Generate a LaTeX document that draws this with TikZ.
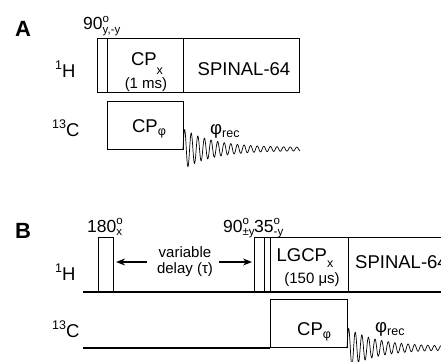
\documentclass[tikz,border=0pt]{standalone}
\usepackage{fontspec}
\setmainfont{Liberation Sans}
\usetikzlibrary{positioning, arrows.meta}

\newcommand{\lowtxt}[2][-0.25em]{\raisebox{#1}{\fontsize{12.5}{12}\selectfont #2}}
\newcommand{\upone}[1]{\raisebox{0.42em}{\fontsize{12.5}{12}\selectfont #1}}
\newcommand{\phaselab}[2]{#1\rlap{\raisebox{0.45em}{\fontsize{11.5}{12}\selectfont o}}\raisebox{-0.22em}{\fontsize{11.5}{12}\selectfont #2}}

\tikzset{
  pulse/.style={draw, line width=1.1pt, inner sep=0pt, anchor=south west},
  lab/.style={font=\fontsize{18.5}{20}\selectfont, inner sep=0pt},
  anglelab/.style={font=\fontsize{17.5}{20}\selectfont, inner sep=0pt, anchor=base west},
  panel/.style={font=\fontsize{22}{22}\selectfont\bfseries, inner sep=0pt, anchor=base west},
  smalllab/.style={font=\fontsize{15}{16}\selectfont, inner sep=0pt, align=center},
  arr/.style={-{Stealth[length=9pt,width=7pt]}, line width=1.1pt},
  fid/.style={line width=0.7pt}
}

\begin{document}
\begin{tikzpicture}[x=1pt, y=-1pt]
  \useasboundingbox (0,0) rectangle (441,361);
  \clip (0,0) rectangle (441,361);

  % panel A
  \node[panel] (labA) at (15,37) {A};
  \node[lab, anchor=base west] (hA) at (55,77) {\upone{1}H};
  \node[lab, anchor=base west] (cA) at (52,136) {\upone{13}C};
  \node[pulse, minimum width=10pt, minimum height=54pt] (hA90) at (97,93) {};
  \node[pulse, minimum width=76pt, minimum height=54pt] (hAcp) at (107,93) {};
  \node[pulse, minimum width=116pt, minimum height=54pt] (hAspinal) at (183,93) {};
  \node[pulse, minimum width=76pt, minimum height=48pt] (cAcp) at (107,150) {};
  \node[anglelab] (hA90lab) at (83,30) {\phaselab{90}{y,-y}};
  \node[lab, anchor=base] (hAcplab) at (147,65) {CP\lowtxt[-0.5em]{x}};
  \node[smalllab, anchor=base] (hAtime) at (146,88) {(1 ms)};
  \node[lab, anchor=base] (hAspinallab) at (244,75) {SPINAL-64};
  \node[lab, anchor=base] (cAcplab) at (149,132) {CP\lowtxt[-0.2em]{φ}};
  \node[lab, anchor=base west] (cArec) at (210,134) {φ\lowtxt[-0.2em]{rec}};
  \draw[fid] plot[domain=0:117, samples=400] ({183+\x}, {149-(19*exp(-\x/30)+1.5)*sin(\x/6.6*360)});

  % panel B
  \node[panel] (labB) at (15,238) {B};
  \node[lab, anchor=base west] (hB) at (55,280) {\upone{1}H};
  \node[lab, anchor=base west] (cB) at (52,337) {\upone{13}C};
  \coordinate (hBstart) at (83,292);
  \coordinate (hBend) at (441,292);
  \coordinate (cBstart) at (83,348);
  \draw[line width=1.1pt] (hBstart) -- (hBend);
  \node[pulse, minimum width=15pt, minimum height=54pt] (hB180) at (98,292) {};
  \node[pulse, minimum width=10pt, minimum height=54pt] (hB90) at (254,292) {};
  \node[pulse, minimum width=6pt, minimum height=54pt] (hB35) at (264,292) {};
  \node[pulse, minimum width=78pt, minimum height=54pt] (hBlg) at (270,292) {};
  \node[pulse, minimum width=120pt, minimum height=54pt] (hBspinal) at (348,292) {};
  \node[pulse, minimum width=77pt, minimum height=48pt] (cBcp) at (270,348) {};
  \draw[line width=1.1pt] (cBstart) -- (cBcp.south west);
  \node[anglelab] (hB180lab) at (87,232) {\phaselab{180}{x}};
  \node[anglelab] (hB90lab) at (223,232) {\phaselab{90}{±y}};
  \node[anglelab] (hB35lab) at (254,232) {\phaselab{35}{-y}};
  \node[smalllab] (delay) at (185,262) {variable\\delay (τ)};
  \draw[arr, shorten <=10pt, shorten >=2pt] (delay.west) -- (delay.west -| hB180.east);
  \draw[arr, shorten <=6pt, shorten >=2pt] (delay.east) -- (delay.east -| hB90.west);
  \node[lab, anchor=base] (hBlglab) at (305,261) {LGCP\lowtxt[-0.35em]{x}};
  \node[smalllab, anchor=base] (hBtime) at (312,283) {(150 μs)};
  \node[lab, anchor=base west] (hBspinallab) at (355,268) {SPINAL-64};
  \node[lab, anchor=base west] (cBcplab) at (297,335) {CP\lowtxt[-0.2em]{φ}};
  \node[lab, anchor=base west] (cBrec) at (375,332) {φ\lowtxt[-0.2em]{rec}};
  \draw[fid] plot[domain=0:100, samples=360] ({347+\x}, {348-(19*exp(-\x/30)+1.5)*sin(\x/6.6*360)});
\end{tikzpicture}
\end{document}
